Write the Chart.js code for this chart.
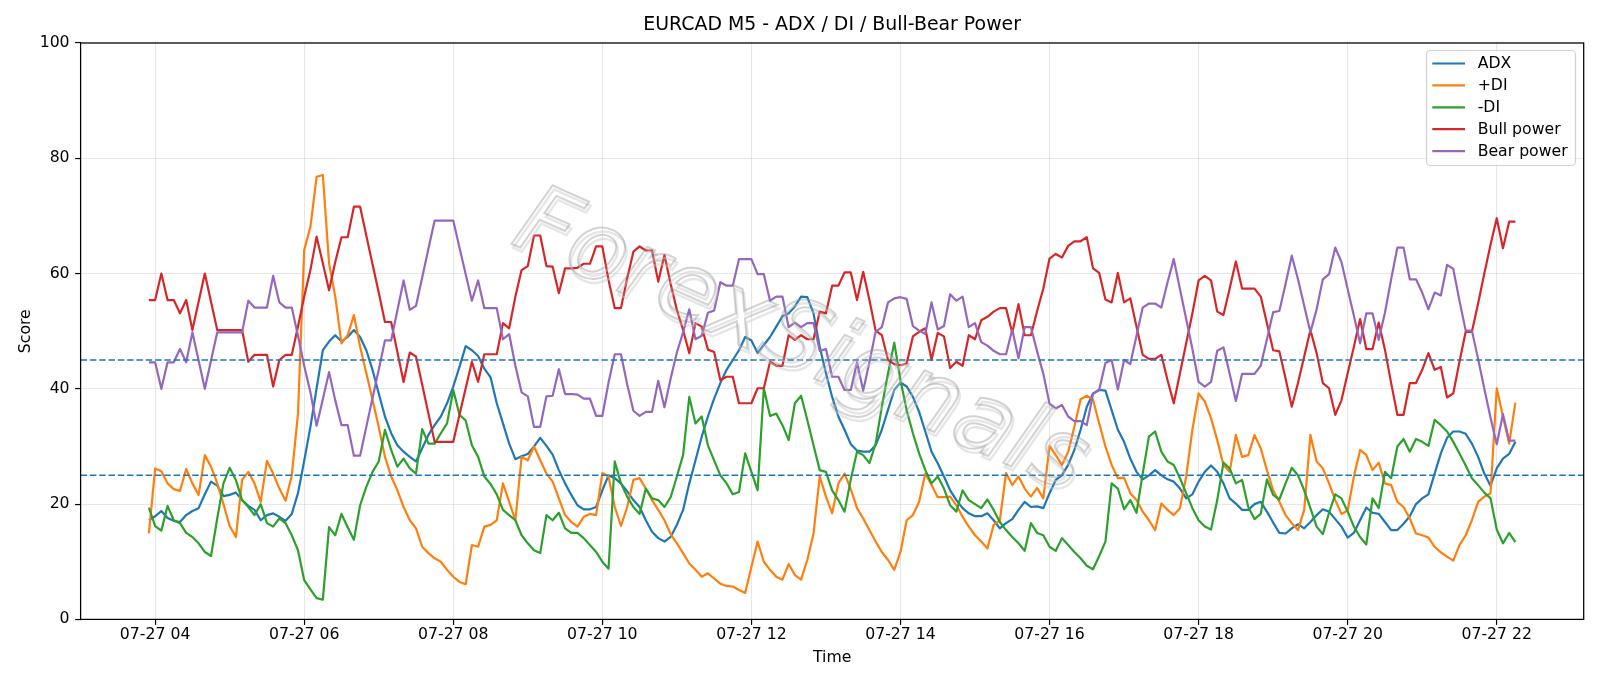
<!DOCTYPE html>
<html><head><meta charset="utf-8">
<script src="https://cdn.jsdelivr.net/npm/chart.js@4.4.1/dist/chart.umd.min.js"></script>
<style>html,body{margin:0;padding:0;background:#fff;}canvas{display:block;}</style>
</head><body>
<canvas id="c" width="1600" height="686" style="width:1600px;height:686px"></canvas>
<script>
// ---------- data ----------
const chartTitle = 'EURCAD M5 - ADX / DI / Bull-Bear Power';
const dateLabel = '07-27';
const firstBarMinute = 3 * 60 + 55;   // 03:55
const barMinutes = 5;                 // M5 bars
const xTickHours = [4, 6, 8, 10, 12, 14, 16, 18, 20, 22];
const yTicks = [0, 20, 40, 60, 80, 100];
const levels = [25, 45];
const seriesNames = ['ADX', '+DI', '-DI', 'Bull power', 'Bear power'];
const seriesColors = ['#1f77b4', '#ff7f0e', '#2ca02c', '#d62728', '#9467bd'];

const adx = [
17.2,17.9,18.8,17.6,17.1,16.9,18.1,18.8,19.3,21.7,
23.9,23.2,21.4,21.6,22.0,20.7,19.7,19.0,17.2,18.1,
18.4,17.8,17.1,18.3,21.9,27.5,33.4,40.1,46.7,48.2,
49.3,48.2,49.0,50.2,49.0,46.7,43.3,39.2,35.2,32.3,
30.2,29.1,28.2,27.4,29.7,32.0,33.7,35.2,37.5,40.4,
43.8,47.4,46.7,45.7,43.5,42.0,37.5,34.0,30.5,27.8,
28.3,28.7,30.0,31.5,30.1,28.6,25.9,23.6,21.6,19.8,
19.1,19.1,19.5,22.4,25.0,24.5,23.6,22.2,20.7,19.5,
17.2,15.2,14.1,13.5,14.3,16.4,19.0,23.6,27.6,31.7,
35.2,38.3,41.0,43.3,45.0,46.7,49.0,48.4,46.2,47.6,
49.0,50.8,52.6,53.1,54.3,56.0,55.9,53.1,47.3,42.7,
38.6,35.2,32.9,30.4,29.3,29.1,29.1,30.2,32.9,36.4,
39.8,41.1,40.4,38.6,36.0,32.6,29.1,27.1,24.8,22.4,
20.7,19.3,18.4,17.9,17.9,18.4,17.2,15.8,16.7,17.4,
19.0,20.4,19.5,19.6,19.3,21.9,24.2,25.0,26.8,29.4,
32.9,36.9,39.2,39.8,39.7,36.3,32.9,30.8,27.9,25.6,
24.3,25.0,25.9,25.0,24.3,23.9,22.7,21.0,21.7,23.9,
25.6,26.7,25.6,23.6,21.0,20.1,19.0,19.0,20.0,20.4,
18.7,16.8,15.0,14.9,15.8,16.5,15.8,16.9,18.1,19.1,
18.7,17.4,16.1,14.2,15.0,17.2,19.4,18.5,18.3,16.9,
15.5,15.5,16.6,17.9,20.0,21.0,21.7,25.3,28.8,31.5,
32.6,32.6,32.2,30.5,28.2,25.3,23.2,26.2,27.9,28.7,
30.8];

const plusDI = [
14.9,26.2,25.7,23.6,22.6,22.3,26.1,23.6,21.6,28.5,
26.5,23.6,20.0,16.2,14.3,24.2,25.6,23.6,20.4,27.5,
25.3,22.7,20.6,25.0,35.7,64.1,68.1,76.8,77.1,61.8,
56.0,47.9,49.3,52.8,47.3,42.7,38.1,33.4,28.2,24.8,
22.4,19.5,17.2,15.8,12.6,11.5,10.6,10.0,8.6,7.4,
6.5,6.1,12.9,12.6,16.1,16.4,17.2,23.6,20.4,17.2,
28.2,27.6,30.0,27.6,25.3,23.9,21.0,18.1,16.9,16.1,
17.8,18.3,18.1,25.4,24.8,19.5,16.2,19.5,24.2,24.5,
22.7,20.7,19.0,17.2,14.8,13.2,11.5,9.7,8.6,7.4,
8.0,7.1,6.2,5.8,5.7,5.1,4.6,9.1,13.5,10.0,
8.6,7.4,6.9,9.6,7.7,6.9,10.3,14.9,24.8,21.3,
18.4,23.6,25.3,22.6,19.3,17.5,15.5,13.5,11.7,10.3,
8.6,11.7,17.2,18.1,20.4,25.3,23.3,21.2,21.2,21.3,
19.8,17.8,16.1,14.6,13.5,12.3,16.4,17.2,25.4,23.3,
24.8,22.7,21.3,22.8,21.0,30.1,28.5,26.8,29.1,33.4,
38.2,38.8,38.1,34.0,30.0,26.8,24.5,24.6,21.9,20.7,
18.7,17.2,15.5,20.1,19.0,18.1,19.3,24.8,32.9,39.2,
37.8,34.9,31.1,26.8,25.6,32.0,28.2,28.5,32.0,29.7,
25.9,22.4,20.4,18.1,16.7,15.5,19.0,32.0,27.4,26.2,
23.6,20.7,18.3,18.9,24.8,29.4,28.5,25.9,27.2,23.6,
23.3,20.4,19.5,17.5,14.9,14.6,14.2,12.6,11.6,10.9,
10.2,12.9,14.6,17.2,20.4,21.3,21.9,40.1,35.2,30.5,
37.6];

const minusDI = [
19.4,16.2,15.4,19.7,17.2,16.7,15.0,14.3,13.2,11.7,
11.0,17.5,23.6,26.3,24.2,20.7,19.5,18.1,20.0,16.7,
16.1,17.5,16.7,14.6,12.0,6.8,5.2,3.7,3.4,16.0,
14.6,18.3,16.0,13.8,19.8,23.0,25.6,27.4,32.9,29.4,
26.5,27.9,26.2,25.3,33.0,30.5,30.5,32.3,34.0,39.8,
35.5,34.5,30.2,28.2,24.8,23.5,21.7,19.0,18.1,17.2,
14.6,13.2,12.0,11.5,18.1,17.2,18.5,15.8,15.0,15.0,
14.1,12.9,11.7,10.0,8.8,27.4,23.6,21.3,19.5,18.3,
22.7,21.0,20.7,19.5,21.2,24.8,28.5,38.6,34.0,35.2,
30.2,27.6,25.0,23.6,21.7,22.1,28.8,25.6,22.4,40.1,
35.3,35.7,33.7,31.1,37.5,38.8,34.6,30.2,25.9,25.6,
22.4,20.7,18.7,24.3,29.1,28.5,27.1,30.5,36.9,42.7,
48.0,41.5,36.3,32.3,28.8,25.9,23.6,24.8,22.7,19.8,
18.7,22.4,20.7,20.0,19.3,20.8,19.0,16.9,15.5,14.3,
13.2,11.9,16.7,15.0,14.6,12.6,11.9,14.1,12.9,11.7,
10.6,9.3,8.7,11.0,13.5,23.6,22.7,19.1,20.7,18.5,
25.3,31.7,32.6,29.1,27.4,26.8,24.5,21.9,19.3,17.2,
16.1,15.6,20.7,27.2,26.2,23.6,24.2,19.5,17.4,18.3,
24.3,21.6,20.8,23.6,26.3,25.0,22.4,19.3,16.1,14.8,
18.5,21.7,21.0,18.7,16.1,14.3,13.0,21.0,19.3,25.6,
24.5,30.0,31.3,29.1,31.3,30.8,30.1,34.6,33.7,32.6,
30.8,28.8,26.7,24.5,23.3,22.0,21.0,15.6,13.2,15.0,
13.4];

const bullPower = [
55.4,55.4,60.0,55.4,55.4,53.1,55.4,50.2,55.1,60.0,
55.1,50.2,50.2,50.2,50.2,50.2,44.7,45.9,45.9,45.9,
40.4,45.0,45.9,45.9,50.8,56.0,60.6,66.4,61.8,57.1,
62.0,66.3,66.3,71.6,71.6,66.6,61.6,56.7,51.6,51.6,
46.4,41.2,46.3,45.6,40.7,35.7,30.8,30.8,30.8,30.8,
35.5,40.1,44.7,41.2,46.0,46.0,46.0,51.4,50.5,56.0,
60.6,61.3,66.6,66.6,61.3,61.2,56.6,60.9,60.9,61.0,
61.7,61.7,64.7,64.7,58.9,54.0,54.0,59.2,63.8,64.7,
64.0,64.0,58.6,63.2,58.2,53.7,50.2,46.2,51.4,50.8,
46.8,46.4,41.5,42.1,42.1,37.5,37.5,37.5,40.1,40.1,
44.7,44.0,44.0,49.3,48.5,49.3,48.6,48.6,53.4,53.1,
57.9,57.9,60.2,60.2,55.4,60.3,55.4,50.1,49.3,45.0,
44.3,44.1,44.4,49.1,49.9,50.5,45.0,49.7,49.1,43.6,
44.7,44.0,49.3,48.6,51.9,52.5,53.4,54.0,54.0,49.7,
54.7,49.3,49.3,53.5,57.4,62.6,63.4,62.8,64.8,65.6,
65.6,66.3,60.9,60.1,55.5,55.0,60.1,55.0,55.7,50.8,
45.9,45.2,45.2,45.9,41.5,37.5,42.7,47.9,53.1,58.8,
59.6,58.8,53.4,52.8,57.4,62.1,57.4,57.4,57.4,56.0,
51.4,46.7,46.5,41.8,36.9,41.0,45.6,50.2,46.2,41.0,
40.1,35.5,38.0,42.7,47.3,52.1,46.9,46.9,51.5,46.8,
41.0,35.5,35.5,41.0,41.0,43.3,46.2,43.3,43.8,38.5,
39.2,44.7,49.9,49.9,54.8,60.0,65.0,69.6,64.4,69.0,
69.0];

const bearPower = [
44.6,44.6,40.0,44.6,44.6,46.9,44.6,49.8,44.9,40.0,
44.9,49.8,49.8,49.8,49.8,49.8,55.3,54.1,54.1,54.1,
59.6,55.0,54.1,54.1,49.2,44.0,39.4,33.6,38.2,42.9,
38.0,33.7,33.7,28.4,28.4,33.4,38.4,43.3,48.4,48.4,
53.6,58.8,53.7,54.4,59.3,64.3,69.2,69.2,69.2,69.2,
64.5,59.9,55.3,58.8,54.0,54.0,54.0,48.6,49.5,44.0,
39.4,38.7,33.4,33.4,38.7,38.8,43.4,39.1,39.1,39.0,
38.3,38.3,35.3,35.3,41.1,46.0,46.0,40.8,36.2,35.3,
36.0,36.0,41.4,36.8,41.8,46.3,49.8,53.8,48.6,49.2,
53.2,53.6,58.5,57.9,57.9,62.5,62.5,62.5,59.9,59.9,
55.3,56.0,56.0,50.7,51.5,50.7,51.4,51.4,46.6,46.9,
42.1,42.1,39.8,39.8,44.6,39.7,44.6,49.9,50.7,55.0,
55.7,55.9,55.6,50.9,50.1,49.5,55.0,50.3,50.9,56.4,
55.3,56.0,50.7,51.4,48.1,47.5,46.6,46.0,46.0,50.3,
45.3,50.7,50.7,46.5,42.6,37.4,36.6,37.2,35.2,34.4,
34.4,33.7,39.1,39.9,44.5,45.0,39.9,45.0,44.3,49.2,
54.1,54.8,54.8,54.1,58.5,62.5,57.3,52.1,46.9,41.2,
40.4,41.2,46.6,47.2,42.6,37.9,42.6,42.6,42.6,44.0,
48.6,53.3,53.5,58.2,63.1,59.0,54.4,49.8,53.8,59.0,
59.9,64.5,62.0,57.3,52.7,47.9,53.1,53.1,48.5,53.2,
59.0,64.5,64.5,59.0,59.0,56.7,53.8,56.7,56.2,61.5,
60.8,55.3,50.1,50.1,45.2,40.0,35.0,30.4,35.6,31.0,
31.0];

// bar times (minutes after midnight, 5-minute bars)
const barTimes = adx.map((_, i) => firstBarMinute + i * barMinutes);

// ---------- chart ----------
const FONT = '"DejaVu Sans", "Liberation Sans", sans-serif';
const BASE = 15.7;
const pad2 = n => String(n).padStart(2, '0');
const allSeries = [adx, plusDI, minusDI, bullPower, bearPower];

const datasets = allSeries.map((arr, k) => ({
  label: seriesNames[k],
  data: arr.map((v, i) => ({ x: barTimes[i], y: v })),
  borderColor: seriesColors[k],
  backgroundColor: seriesColors[k],
  borderWidth: 2.2,
  pointRadius: 0,
  tension: 0,
  fill: false,
  borderJoinStyle: 'round',
  order: 5 - k
}));

const span = barTimes[barTimes.length - 1] - barTimes[0];
const xMin = barTimes[0] - span * 0.05;
const xMax = barTimes[barTimes.length - 1] + span * 0.05;

const decor = {
  id: 'decor',
  afterDatasetsDraw(chart) {
    const { ctx, chartArea: a, scales } = chart;
    ctx.save();
    ctx.strokeStyle = '#1f77b4';
    ctx.lineWidth = 1.6;
    ctx.setLineDash([6.5, 2.8]);
    levels.forEach(v => {
      const y = scales.y.getPixelForValue(v);
      ctx.beginPath(); ctx.moveTo(a.left, y); ctx.lineTo(a.right, y); ctx.stroke();
    });
    ctx.restore();
  },
  afterDraw(chart) {
    const { ctx, chartArea: a } = chart;
    // watermark
    ctx.save();
    ctx.translate(800, 345);
    ctx.rotate(24 * Math.PI / 180);
    ctx.font = 'italic 96px ' + FONT;
    ctx.textAlign = 'center';
    ctx.textBaseline = 'middle';
    ctx.lineWidth = 2.4;
    ctx.strokeStyle = 'rgba(200,200,200,0.45)';
    ctx.strokeText('ForexSignals', 3, 3);
    ctx.strokeStyle = 'rgba(150,150,150,0.42)';
    ctx.lineWidth = 2.0;
    ctx.strokeText('ForexSignals', 0, 0);
    ctx.restore();
    // spines
    ctx.save();
    ctx.strokeStyle = '#000';
    ctx.lineWidth = 1.25;
    ctx.strokeRect(a.left, a.top, a.right - a.left, a.bottom - a.top);
    ctx.restore();
    // texts
    ctx.save();
    ctx.fillStyle = '#000';
    ctx.textAlign = 'center';
    ctx.textBaseline = 'middle';
    ctx.font = '18.9px ' + FONT;
    ctx.fillText(chartTitle, (a.left + a.right) / 2, 25.5);
    ctx.font = BASE + 'px ' + FONT;
    ctx.fillText('Time', (a.left + a.right) / 2, 658);
    ctx.translate(25.5, (a.top + a.bottom) / 2);
    ctx.rotate(-Math.PI / 2);
    ctx.fillText('Score', 0, 0);
    ctx.restore();
    // legend
    ctx.save();
    const lx = 1426.5, ly = 50.5, lw = 149, lh = 115;
    ctx.beginPath();
    ctx.roundRect(lx, ly, lw, lh, 4);
    ctx.fillStyle = 'rgba(255,255,255,0.8)';
    ctx.fill();
    ctx.strokeStyle = 'rgba(204,204,204,0.9)';
    ctx.lineWidth = 1.2;
    ctx.stroke();
    ctx.font = BASE + 'px ' + FONT;
    ctx.textAlign = 'left';
    ctx.textBaseline = 'middle';
    chart.data.datasets.forEach((ds, k) => {
      const y = 63.5 + k * 21.9;
      ctx.strokeStyle = ds.borderColor;
      ctx.lineWidth = 2.2;
      ctx.beginPath(); ctx.moveTo(1432.3, y); ctx.lineTo(1465, y); ctx.stroke();
      ctx.fillStyle = '#000';
      ctx.fillText(ds.label, 1477.7, y + 0.5);
    });
    ctx.restore();
  }
};

const gridOpts = {
  color: 'rgba(176,176,176,0.3)',
  lineWidth: 1.1,
  tickColor: '#000',
  tickLength: 5.5,
  tickWidth: 1.2,
  drawTicks: true
};

new Chart(document.getElementById('c'), {
  type: 'line',
  data: { datasets },
  options: {
    responsive: false,
    animation: false,
    devicePixelRatio: 1,
    layout: { padding: { top: 43, right: 16.3, bottom: 0, left: 0 } },
    plugins: { legend: { display: false }, title: { display: false }, tooltip: { enabled: false } },
    scales: {
      x: {
        type: 'linear',
        min: xMin, max: xMax,
        afterBuildTicks: s => { s.ticks = xTickHours.map(h => ({ value: h * 60 })); },
        afterFit: s => { s.height = 66.6; },
        ticks: {
          autoSkip: false, maxRotation: 0, minRotation: 0, padding: 1,
          color: '#000', font: { family: FONT, size: BASE },
          callback: v => dateLabel + ' ' + pad2(Math.round(v / 60))
        },
        grid: gridOpts,
        border: { display: false }
      },
      y: {
        type: 'linear',
        min: 0, max: 100,
        afterBuildTicks: s => { s.ticks = yTicks.map(v => ({ value: v })); },
        afterFit: s => { s.width = 80.6; },
        ticks: { padding: 5.5, color: '#000', font: { family: FONT, size: BASE } },
        grid: gridOpts,
        border: { display: false }
      }
    }
  },
  plugins: [decor]
});
</script>
</body></html>
